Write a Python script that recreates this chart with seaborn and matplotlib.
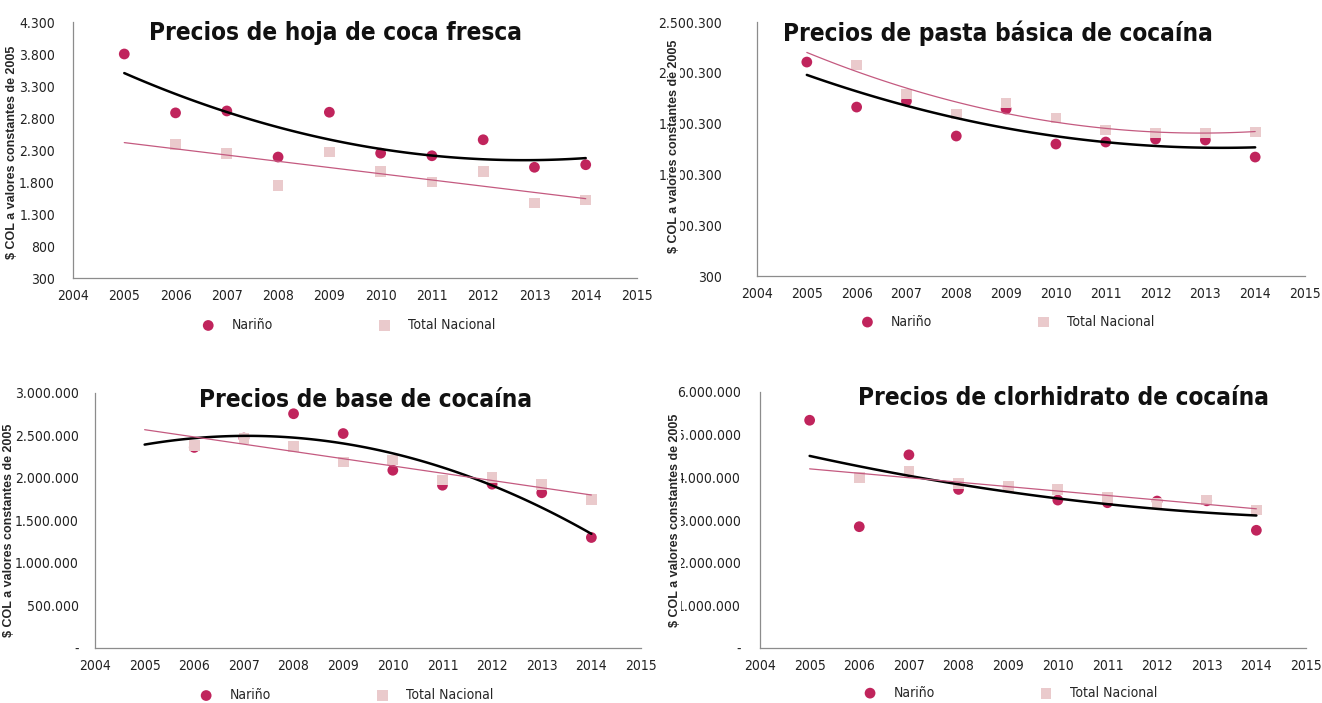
import numpy as np
import pandas as pd
import matplotlib
matplotlib.use('Agg')
import matplotlib.pyplot as plt
from matplotlib.ticker import FuncFormatter
import seaborn as sns

sns.set_style('white')
plt.rcParams['font.family'] = ['DejaVu Sans', 'Liberation Sans']
plt.rcParams['font.stretch'] = 'condensed'

years = [2005, 2006, 2007, 2008, 2009, 2010, 2011, 2012, 2013, 2014]

# hoja de coca fresca
hoja_narino = [3800, 2880, 2910, 2190, 2890, 2250, 2210, 2460, 2030, 2070]
hoja_total = [np.nan, 2390, 2240, 1750, 2270, 1960, 1800, 1960, 1470, 1520]

# pasta basica de cocaina
pasta_narino = [2106000, 1663000, 1722000, 1378000, 1644000, 1299000, 1319000, 1348000, 1339000, 1171000]
pasta_total = [np.nan, 2077000, 1791000, 1595000, 1703000, 1555000, 1437000, 1408000, 1408000, 1417000]

# base de cocaina
base_narino = [np.nan, 2360000, 2470000, 2756000, 2523000, 2091000, 1915000, 1927000, 1826000, 1300000]
base_total = [np.nan, 2383000, 2468000, 2371000, 2187000, 2211000, 1977000, 2009000, 1924000, 1744000]

# clorhidrato de cocaina
clor_narino = [5338000, 2843000, 4527000, 3717000, 3760000, 3467000, 3405000, 3444000, 3450000, 2759000]
clor_total = [np.nan, 3989000, 4145000, 3858000, 3779000, 3717000, 3530000, 3390000, 3467000, 3233000]

titles = ['Precios de hoja de coca fresca', 'Precios de pasta básica de cocaína',
          'Precios de base de cocaína', 'Precios de clorhidrato de cocaína']
ylabel = '$ COL a valores constantes de 2005'

c_narino = '#C0245C'
c_total = '#EACACC'
c_tline = '#C45A80'

W, H = 1322, 703

def px_axes(left, right, top, bottom):
    return [left / W, 1 - bottom / H, (right - left) / W, (bottom - top) / H]

panels = [
    dict(rect=px_axes(73, 637, 22, 278), nar=hoja_narino, tot=hoja_total, ylim=(300, 4300), step=500,
         tot_order=1, title_xy=(0.465, 0.957), lab_xy=(-0.098, 0.49), pad=13, leg_xy=(0.488, -0.184)),
    dict(rect=px_axes(757, 1305, 22, 276), nar=pasta_narino, tot=pasta_total, ylim=(300, 2500300), step=500000,
         tot_order=2, title_xy=(0.44, 0.957), lab_xy=(-0.14, 0.51), pad=25, leg_xy=(0.457, -0.18)),
    dict(rect=px_axes(95, 641, 393, 648), nar=base_narino, tot=base_total, ylim=(0, 3000000), step=500000,
         tot_order=1, title_xy=(0.495, 0.973), lab_xy=(-0.146, 0.46), pad=11.5, leg_xy=(0.46, -0.185)),
    dict(rect=px_axes(760, 1306, 392, 648), nar=clor_narino, tot=clor_total, ylim=(0, 6000000), step=1000000,
         tot_order=1, title_xy=(0.556, 0.977), lab_xy=(-0.144, 0.5), pad=14, leg_xy=(0.458, -0.175)),
]

def fmt(v, pos):
    if abs(v) < 1:
        return '-'
    return f'{int(round(v)):,}'.replace(',', '.')

fig = plt.figure(figsize=(W / 100, H / 100), dpi=100)

for p, title in zip(panels, titles):
    ax = fig.add_axes(p['rect'])
    df = pd.DataFrame({'year': years, 'Nariño': p['nar'], 'Total Nacional': p['tot']})

    # lineas de tendencia (polinomica para Nariño)
    xs = np.linspace(2005, 2014, 100)
    d = df.dropna(subset=['Nariño'])
    fit_n = np.polyval(np.polyfit(d['year'], d['Nariño'], 2), xs)
    d = df.dropna(subset=['Total Nacional'])
    fit_t = np.polyval(np.polyfit(d['year'], d['Total Nacional'], p['tot_order']), xs)

    sns.scatterplot(data=df, x='year', y='Nariño', ax=ax, color=c_narino, marker='o',
                    s=60, edgecolor='none', label='Nariño', zorder=3)
    sns.scatterplot(data=df, x='year', y='Total Nacional', ax=ax, color=c_total, marker='s',
                    s=60, edgecolor='none', label='Total Nacional', zorder=4)
    sns.lineplot(x=xs, y=fit_n, ax=ax, color='black', lw=1.8, zorder=5, legend=False)
    sns.lineplot(x=xs, y=fit_t, ax=ax, color=c_tline, lw=0.9, zorder=5, legend=False)

    ax.set_xlim(2004, 2015)
    ax.set_xticks(range(2004, 2016))
    ax.set_ylim(*p['ylim'])
    ax.set_yticks(np.arange(p['ylim'][0], p['ylim'][1] + 1, p['step']))
    ax.yaxis.set_major_formatter(FuncFormatter(fmt))
    ax.tick_params(axis='both', length=0, labelsize=10, colors='#222222')
    ax.tick_params(axis='y', pad=p['pad'])
    ax.tick_params(axis='x', pad=8)
    ax.set_xlabel('')
    ax.set_ylabel(ylabel, fontsize=9, fontweight='bold', family='Liberation Sans', fontstretch='normal',
                  bbox=dict(facecolor='white', edgecolor='none', pad=0))
    ax.yaxis.set_label_coords(*p['lab_xy'])
    sns.despine(ax=ax)
    for s in ['left', 'bottom']:
        ax.spines[s].set_color('#8c8c8c')
        ax.spines[s].set_linewidth(0.9)

    ax.text(p['title_xy'][0], p['title_xy'][1], title, transform=ax.transAxes,
            ha='center', va='center', fontsize=17.5, fontweight='bold', color='#111111')

    ax.legend(loc='center', bbox_to_anchor=p['leg_xy'], ncol=2, frameon=False,
              fontsize=10, handlelength=1.0, handletextpad=1.2, columnspacing=7.5,
              markerscale=1.0)

fig.savefig('out.png', dpi=100)
